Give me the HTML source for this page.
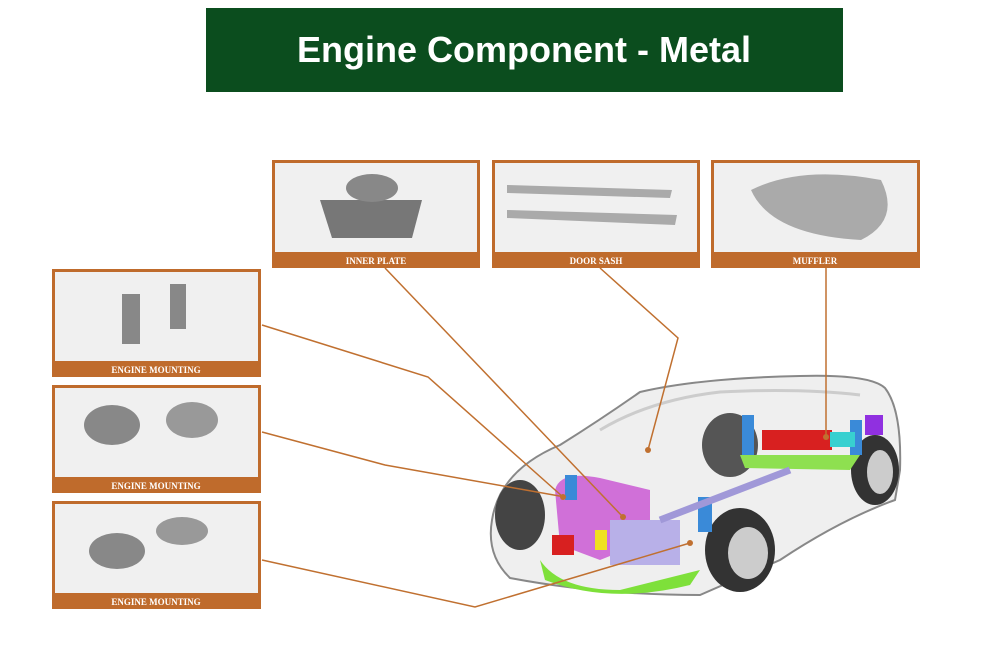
<!DOCTYPE html><html><head><style>body{margin:0;background:#fff}svg{display:block}</style></head><body>
<svg width="1000" height="650" xmlns="http://www.w3.org/2000/svg" font-family="Liberation Serif,serif">
<rect width="1000" height="650" fill="#fff"/>
<rect x="206" y="8" width="637" height="84" fill="#0b4d1e"/>
<text x="524" y="62" text-anchor="middle" fill="#fff" font-family="Liberation Sans,sans-serif" font-weight="bold" font-size="36">Engine Component - Metal</text>
<!-- car -->
<g>
<path d="M492 520 Q500 470 560 445 Q600 420 640 392 Q700 378 800 376 Q870 374 885 388 Q902 410 900 470 L895 500 Q840 520 780 560 L700 595 Q600 595 510 578 Q486 555 492 520Z" fill="#efefef" stroke="#888" stroke-width="2"/>
<path d="M600 430 Q650 400 720 392 Q800 388 860 395" fill="none" stroke="#ccc" stroke-width="3"/>
<ellipse cx="730" cy="445" rx="28" ry="32" fill="#555"/>
<ellipse cx="520" cy="515" rx="25" ry="35" fill="#444"/>
<ellipse cx="875" cy="470" rx="24" ry="35" fill="#333"/><ellipse cx="880" cy="472" rx="13" ry="22" fill="#ccc"/>
<ellipse cx="740" cy="550" rx="35" ry="42" fill="#333"/><ellipse cx="748" cy="553" rx="20" ry="26" fill="#ccc"/>
<path d="M555 490 Q560 470 600 478 L650 490 L650 540 L600 560 L560 545Z" fill="#d070d8"/>
<rect x="610" y="520" width="70" height="45" fill="#b8b0e8"/>
<path d="M540 560 Q560 590 620 590 L700 570 L690 585 Q610 605 545 580Z" fill="#7ee03a"/>
<rect x="552" y="535" width="22" height="20" fill="#d82020"/>
<rect x="595" y="530" width="12" height="20" fill="#f0e020"/>
<rect x="565" y="475" width="12" height="25" fill="#3a8ad8"/>
<rect x="698" y="497" width="14" height="35" fill="#3a8ad8"/>
<rect x="742" y="415" width="12" height="45" fill="#3a8ad8"/>
<rect x="850" y="420" width="12" height="35" fill="#3a8ad8"/>
<rect x="762" y="430" width="70" height="20" fill="#d82020"/>
<rect x="830" y="432" width="25" height="15" fill="#38d0d0"/>
<rect x="865" y="415" width="18" height="20" fill="#9030e0"/>
<path d="M740 455 L860 455 L850 470 L745 468Z" fill="#8ee050"/>
<line x1="660" y1="520" x2="790" y2="470" stroke="#a098d8" stroke-width="7"/>
</g>
<!-- connectors -->
<g stroke="#c07030" stroke-width="1.5" fill="none">
<polyline points="262,325 428,377 563,497"/>
<polyline points="262,432 385,465 565,497"/>
<polyline points="385,268 623,517"/>
<polyline points="600,268 678,338 648,450"/>
<polyline points="826,268 826,437"/>
<polyline points="262,560 475,607 690,543"/>
</g>
<g fill="#c07030"><circle cx="563" cy="497" r="3"/><circle cx="623" cy="517" r="3"/><circle cx="648" cy="450" r="3"/><circle cx="826" cy="437" r="3"/><circle cx="690" cy="543" r="3"/></g>
<!-- cards -->
<g font-size="9" font-weight="bold" fill="#fff" text-anchor="middle">
<g transform="translate(272,160)"><rect width="208" height="108" fill="#bf6b2c"/><rect x="3" y="3" width="202" height="89" fill="#f0f0f0"/><path d="M48 40 L150 40 L140 78 L60 78Z" fill="#777"/><ellipse cx="100" cy="28" rx="26" ry="14" fill="#888"/><text x="104" y="104">INNER PLATE</text></g>
<g transform="translate(492,160)"><rect width="208" height="108" fill="#bf6b2c"/><rect x="3" y="3" width="202" height="89" fill="#f0f0f0"/><path d="M15 25 L180 30 L178 38 L15 33Z M15 50 L185 55 L183 65 L15 58Z" fill="#aaa"/><text x="104" y="104">DOOR SASH</text></g>
<g transform="translate(711,160)"><rect width="209" height="108" fill="#bf6b2c"/><rect x="3" y="3" width="203" height="89" fill="#f0f0f0"/><path d="M40 30 Q90 5 170 20 Q190 60 150 80 Q60 75 40 30Z" fill="#aaa"/><text x="104" y="104">MUFFLER</text></g>
<g transform="translate(52,269)"><rect width="209" height="108" fill="#bf6b2c"/><rect x="3" y="3" width="203" height="89" fill="#f0f0f0"/><rect x="70" y="25" width="18" height="50" fill="#888"/><rect x="118" y="15" width="16" height="45" fill="#888"/><text x="104" y="104">ENGINE MOUNTING</text></g>
<g transform="translate(52,385)"><rect width="209" height="108" fill="#bf6b2c"/><rect x="3" y="3" width="203" height="89" fill="#f0f0f0"/><ellipse cx="60" cy="40" rx="28" ry="20" fill="#888"/><ellipse cx="140" cy="35" rx="26" ry="18" fill="#999"/><text x="104" y="104">ENGINE MOUNTING</text></g>
<g transform="translate(52,501)"><rect width="209" height="108" fill="#bf6b2c"/><rect x="3" y="3" width="203" height="89" fill="#f0f0f0"/><ellipse cx="65" cy="50" rx="28" ry="18" fill="#888"/><ellipse cx="130" cy="30" rx="26" ry="14" fill="#999"/><text x="104" y="104">ENGINE MOUNTING</text></g>
</g>
</svg>
</body></html>
